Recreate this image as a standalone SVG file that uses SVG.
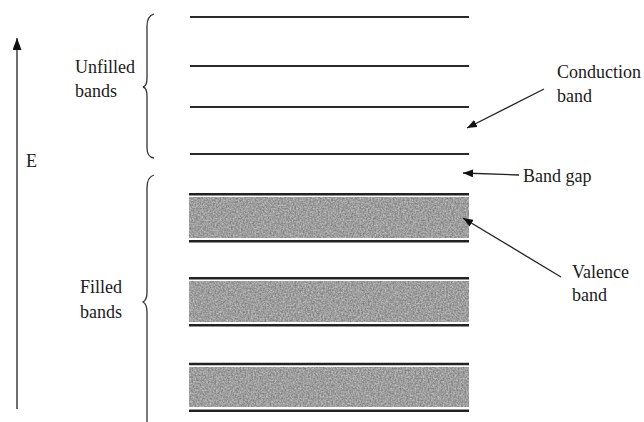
<svg xmlns="http://www.w3.org/2000/svg" width="644" height="422" viewBox="0 0 644 422">
<style>
  text { font-size: 18px; fill: #1a1a1a; }
  .lvl { stroke: #2a2a2a; stroke-width: 2; }
  .edge { stroke: #222; stroke-width: 2.6; }
  .fill { fill: #a6a6a6; }
  .brace { fill: none; stroke: #333; stroke-width: 1.3; }
  .conn { stroke: #222; stroke-width: 1.3; fill: none; }
</style>
<defs>
  <marker id="ah" viewBox="0 0 10 8" refX="10" refY="4" markerWidth="10" markerHeight="8" markerUnits="userSpaceOnUse" orient="auto">
    <path d="M0,0 L10,4 L0,8 Z" fill="#111"/>
  </marker>
  <marker id="ahE" viewBox="0 0 12 9" refX="12" refY="4.5" markerWidth="12" markerHeight="9" markerUnits="userSpaceOnUse" orient="auto">
    <path d="M0,0 L12,4.5 L0,9 Z" fill="#111"/>
  </marker>
  <filter id="grain" x="0" y="0" width="100%" height="100%" color-interpolation-filters="sRGB">
    <feTurbulence type="fractalNoise" baseFrequency="0.6" numOctaves="2" seed="3" result="n"/>
    <feColorMatrix in="n" type="matrix" values="1.4 0 0 0 -0.2  1.4 0 0 0 -0.2  1.4 0 0 0 -0.2  0 0 0 0 1" result="g"/>
    <feComposite in="g" in2="SourceGraphic" operator="arithmetic" k1="0" k2="0.3" k3="0.72" k4="0" result="mix"/>
    <feComposite in="mix" in2="SourceGraphic" operator="in"/>
  </filter>
</defs>

<g id="energy-axis">
  <line class="conn" x1="17" y1="409" x2="17" y2="38" stroke-width="2" marker-end="url(#ahE)"/>
  <text x="26" y="167" font-family="'Liberation Serif', 'DejaVu Serif', serif">E</text>
</g>

<g id="unfilled-bands" font-family="'Liberation Serif', 'DejaVu Serif', serif">
  <path class="brace" d="M154,14 Q147,16 147,26 L147,78 Q147,86 143,87 Q147,88 147,96 L147,148 Q147,157 154,158"/>
  <text x="75" y="73">Unfilled</text>
  <text x="75" y="97">bands</text>
  <line class="lvl" x1="190" y1="17" x2="469" y2="17"/>
  <line class="lvl" x1="190" y1="66" x2="469" y2="66"/>
  <line class="lvl" x1="190" y1="107" x2="469" y2="107"/>
  <line class="lvl" x1="190" y1="154" x2="469" y2="154" stroke-width="2.6"/>
</g>

<g id="filled-bands" font-family="'Liberation Serif', 'DejaVu Serif', serif">
  <path class="brace" d="M154,175 Q147,177 147,188 L147,292 Q147,300 143,302 Q147,304 147,312 L147,422"/>
  <text x="80" y="293">Filled</text>
  <text x="80" y="318">bands</text>
  <g id="band-1">
    <rect class="fill" x="189" y="197" width="280" height="41" filter="url(#grain)"/>
    <line class="edge" x1="189" y1="194.3" x2="469" y2="194.3"/>
    <line class="edge" x1="189" y1="241.3" x2="469" y2="241.3"/>
  </g>
  <g id="band-2">
    <rect class="fill" x="189" y="281" width="280" height="41" filter="url(#grain)"/>
    <line class="edge" x1="189" y1="278.3" x2="469" y2="278.3"/>
    <line class="edge" x1="189" y1="325.3" x2="469" y2="325.3" stroke-width="2"/>
  </g>
  <g id="band-3">
    <rect class="fill" x="189" y="367" width="280" height="40" filter="url(#grain)"/>
    <line class="edge" x1="189" y1="364" x2="469" y2="364"/>
    <line class="edge" x1="189" y1="410.7" x2="469" y2="410.7"/>
  </g>
</g>

<g id="label-conduction" font-family="'Liberation Serif', 'DejaVu Serif', serif">
  <text x="557" y="78">Conduction</text>
  <text x="557" y="102">band</text>
</g>
<g id="label-bandgap" font-family="'Liberation Serif', 'DejaVu Serif', serif">
  <text x="523" y="182">Band gap</text>
</g>
<g id="label-valence" font-family="'Liberation Serif', 'DejaVu Serif', serif">
  <text x="572" y="278">Valence</text>
  <text x="572" y="301">band</text>
</g>

<g id="connectors">
  <line class="conn" x1="544" y1="89" x2="467" y2="128" marker-end="url(#ah)"/>
  <line class="conn" x1="519" y1="175" x2="463" y2="173" marker-end="url(#ah)"/>
  <line class="conn" x1="561" y1="277" x2="463" y2="218" marker-end="url(#ah)"/>
</g>
</svg>
